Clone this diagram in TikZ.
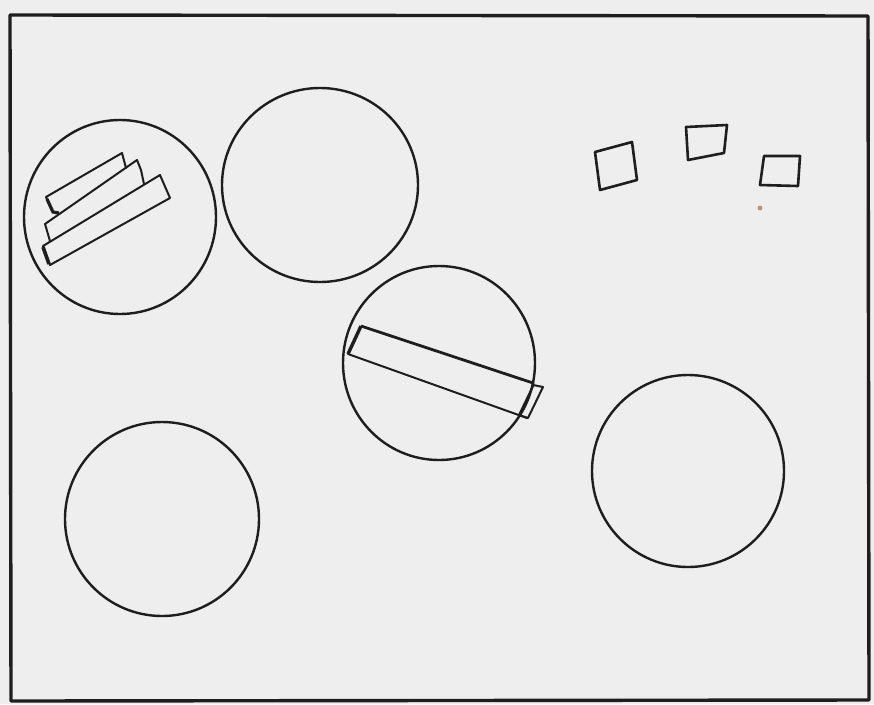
\documentclass[tikz,border=0pt]{standalone}
\usepackage{xcolor}
\usepackage{tikz}
\definecolor{paper}{HTML}{EEEEEE}
\definecolor{ink}{HTML}{1E1E1E}
\definecolor{speck}{HTML}{B49A78}
\tikzset{
    frameline/.style={
        draw=ink,
        line width=3.4pt,
        line join=round
    }
}
\tikzset{
    plate/.style={
        draw=ink,
        line width=2.4pt
    }
}
\tikzset{
    bar/.style={
        draw=ink,
        line width=2pt,
        line join=round,
        line cap=round
    }
}
\tikzset{
    tile/.style={
        draw=ink,
        line width=2.6pt,
        line join=round
    }
}

\begin{document}
\begin{tikzpicture}[
    x=1pt,
    y=-1pt
]

% ------------------------------------------------------------
% Sheet and frame
% ------------------------------------------------------------

\fill[paper] (0,0) rectangle (874,704);
\useasboundingbox (0,0) rectangle (874,704);
\draw[frameline] (10,15) -- (868,16) -- (869,700) -- (11,701) -- cycle;

% ------------------------------------------------------------
% Plates
% ------------------------------------------------------------

\coordinate (plateA) at (120,217);
\coordinate (plateB) at (320,185);
\coordinate (plateC) at (439,363);
\coordinate (plateD) at (162,519);
\coordinate (plateE) at (688,471);

\draw[plate] (plateA) ellipse[x radius=96, y radius=97];
\draw[plate] (plateB) ellipse[x radius=98, y radius=97];
\draw[plate] (plateC) ellipse[x radius=96, y radius=97];
\draw[plate] (plateD) ellipse[x radius=97, y radius=97];
\draw[plate] (plateE) ellipse[x radius=96, y radius=96];

% ------------------------------------------------------------
% Stacked bars on the first plate
% ------------------------------------------------------------

\draw[bar] (52,211) -- (46,197) -- (122,153) -- (126,168);
\draw[ink, line width=3.2pt] (47,199) -- (53,212) -- (59,213);
\draw[bar] (50,241) -- (45,224) -- (137,160) -- (141,170) -- (144,184);
\draw[bar] (43,246) -- (160,175) -- (170,198) -- (50,265) -- cycle;
\draw[ink, line width=3.6pt] (43,247) -- (49,264);

% ------------------------------------------------------------
% Long bar across the middle plate
% ------------------------------------------------------------

\draw[ink, line width=2.8pt] (361,326) -- (533,383) -- (533,385);
\draw[ink, line width=3.4pt] (361,326) -- (348,354);
\draw[bar] (348,354) -- (527,418);
\draw[bar] (533,385) -- (543,387) -- (528,418) -- (519,415);
\draw[bar] (533,386) -- (519,415);

% ------------------------------------------------------------
% Tiles
% ------------------------------------------------------------

\draw[tile] (595,152) -- (632,142) -- (637,180) -- (600,190) -- cycle;
\draw[tile] (686,127) -- (727,125) -- (724,153) -- (688,160) -- cycle;
\draw[tile] (764,156) -- (800,156) -- (798,186) -- (760,185) -- cycle;

\fill[speck] (760,208) circle[radius=2.5];

\end{tikzpicture}
\end{document}
